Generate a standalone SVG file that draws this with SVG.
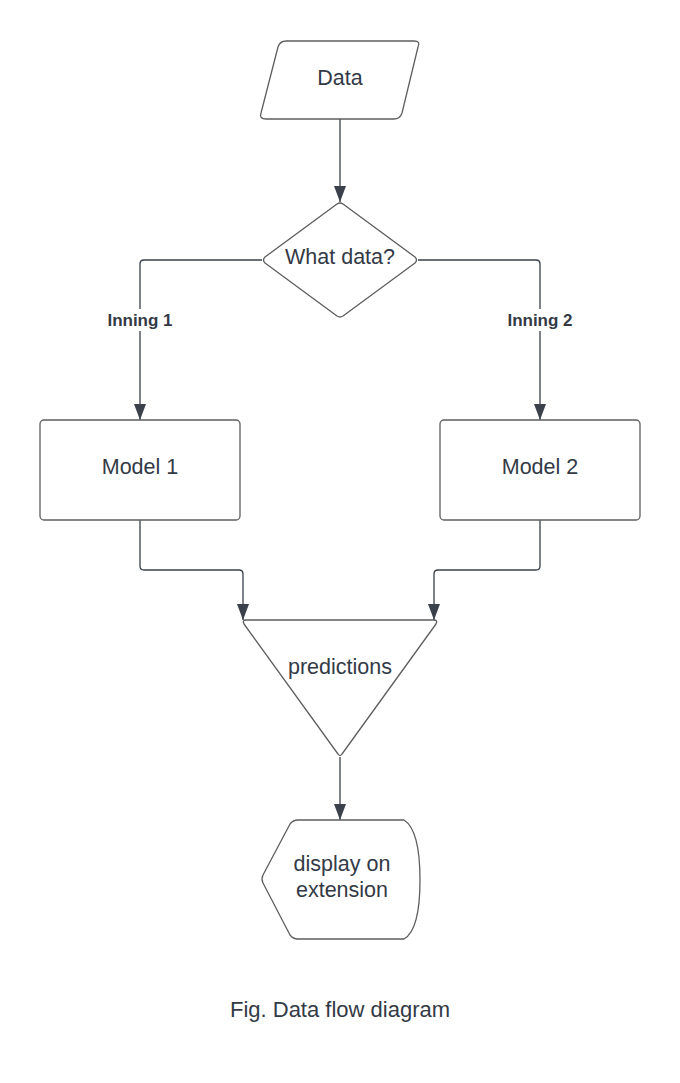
<svg xmlns="http://www.w3.org/2000/svg" width="680" height="1083" viewBox="0 0 680 1083">
<style>
.shape{fill:#ffffff;stroke:#5e5e5e;stroke-width:1.3;stroke-linejoin:round}
.conn{fill:none;stroke:#3a414a;stroke-width:1.3;stroke-linejoin:round}
.lbl{font-family:"Liberation Sans",Arial,sans-serif;font-size:21.5px;fill:#333a46;text-anchor:middle}
.elbl{font-family:"Liberation Sans",Arial,sans-serif;font-size:17px;font-weight:bold;fill:#333a46;text-anchor:middle}
.cap{font-family:"Liberation Sans",Arial,sans-serif;font-size:22px;fill:#333a46;text-anchor:middle}
</style>
<defs>
<marker id="arr" viewBox="0 0 16 12" refX="16" refY="6" markerWidth="16" markerHeight="12" markerUnits="userSpaceOnUse" orient="auto">
<path d="M0,0 L16,6 L0,12 Z" fill="#3a414a"/>
</marker>
</defs>
<rect width="680" height="1083" fill="#ffffff"/>
<g id="connectors">
<path class="conn" d="M340,119 V202" marker-end="url(#arr)"/>
<path class="conn" d="M262,260 H144 Q140,260 140,264 V420" marker-end="url(#arr)"/>
<path class="conn" d="M418,260 H536 Q540,260 540,264 V420" marker-end="url(#arr)"/>
<path class="conn" d="M140,520 V566 Q140,570 144,570 H239 Q243,570 243,574 V620" marker-end="url(#arr)"/>
<path class="conn" d="M540,520 V566 Q540,570 536,570 H438 Q434,570 434,574 V620" marker-end="url(#arr)"/>
<path class="conn" d="M340,757 V820" marker-end="url(#arr)"/>
<rect x="124" y="309" width="34" height="22" fill="#ffffff"/>
<text class="elbl" x="140" y="326">Inning 1</text>
<rect x="524" y="309" width="34" height="22" fill="#ffffff"/>
<text class="elbl" x="540" y="326">Inning 2</text>
</g>
<g id="data">
<path class="shape" d="M286,41 H414 Q421,41 418,47 L402,113 Q400,119 394,119 H266 Q259,119 261,113 L278,47 Q280,41 286,41 Z"/>
<text class="lbl" x="340" y="85">Data</text>
</g>
<g id="what-data">
<path class="shape" d="M337,204 Q340,202 343,204 L415,257 Q418,260 415,263 L343,316 Q340,318 337,316 L265,263 Q262,260 265,257 Z"/>
<text class="lbl" x="340" y="264">What data?</text>
</g>
<g id="model1">
<rect class="shape" x="40" y="420" width="200" height="100" rx="4"/>
<text class="lbl" x="140" y="474">Model 1</text>
</g>
<g id="model2">
<rect class="shape" x="440" y="420" width="200" height="100" rx="4"/>
<text class="lbl" x="540" y="474">Model 2</text>
</g>
<g id="predictions">
<path class="shape" d="M246,620 H434 Q438,620 436,624 L342,754 Q340,757 338,754 L244,624 Q242,620 246,620 Z"/>
<text class="lbl" x="340" y="674">predictions</text>
</g>
<g id="display">
<path class="shape" d="M298,820 H404 Q420,830 420,880 Q420,930 404,939 H298 Q293,939 290,935 L263,883 Q261,879 263,875 L290,824 Q293,820 298,820 Z"/>
<text class="lbl" x="342" y="871">display on</text>
<text class="lbl" x="342" y="897">extension</text>
</g>
<text class="cap" x="340" y="1017">Fig. Data flow diagram</text>
</svg>
